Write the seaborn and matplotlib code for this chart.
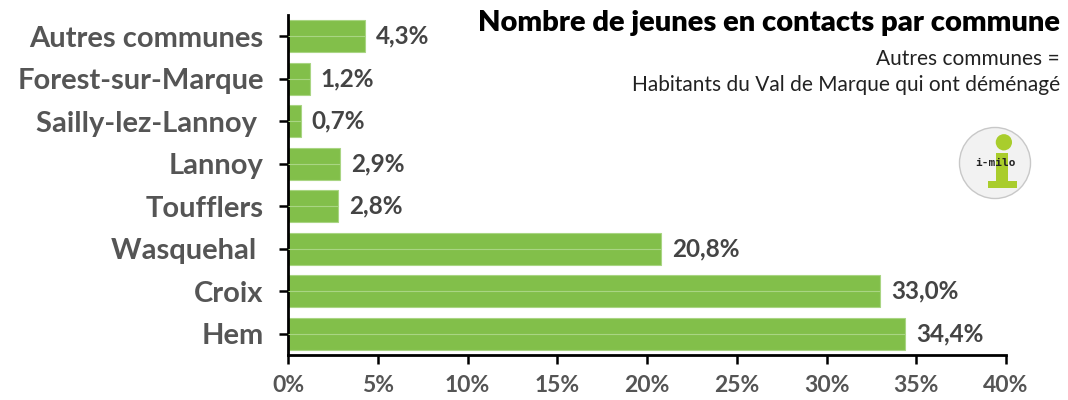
import pandas as pd
import matplotlib.pyplot as plt
import seaborn as sns
from matplotlib.patches import Circle, Rectangle

communes = ['Autres communes', 'Forest-sur-Marque', 'Sailly-lez-Lannoy ', 'Lannoy',
            'Toufflers', 'Wasquehal ', 'Croix', 'Hem']
parts = [4.3, 1.2, 0.7, 2.9, 2.8, 20.8, 33.0, 34.4]
x_ticks = [0, 5, 10, 15, 20, 25, 30, 35, 40]

df = pd.DataFrame({'Commune': communes, 'Part': parts})

sns.set_style('white')
plt.rcParams['font.family'] = ['Lato', 'DejaVu Sans']

fig = plt.figure(figsize=(10.68, 4), dpi=100)
ax = fig.add_axes([288 / 1068, 45 / 400, 718 / 1068, 340 / 400])

sns.barplot(data=df, x='Part', y='Commune', color='#82bf4a', width=0.75,
            edgecolor='#a9d583', linewidth=0.8, saturation=1, ax=ax)
# thin light line through the middle of each bar
ax.hlines(range(len(parts)), 0, parts, colors='#a9d583', linewidth=0.8, zorder=3)

ax.bar_label(ax.containers[0], labels=[f'{v:.1f}%'.replace('.', ',') for v in parts],
             padding=8, fontsize=17.5, fontweight='bold', color='#444444')

ax.set_xlim(0, 40)
ax.set_ylim(len(parts) - 0.5, -0.5)
ax.set_xticks(x_ticks, labels=[f'{t}%' for t in x_ticks])
ax.set_xlabel('')
ax.set_ylabel('')
ax.tick_params(axis='both', which='both', direction='out', length=6.5, width=1.8,
               color='black', left=True, bottom=True)
ax.tick_params(axis='y', labelsize=21, labelcolor='#555555', pad=11)
ax.tick_params(axis='x', labelsize=16.5, labelcolor='#555555', pad=8)
for lab in ax.get_xticklabels() + ax.get_yticklabels():
    lab.set_fontweight('bold')
for side in ['top', 'right']:
    ax.spines[side].set_visible(False)
for side in ['left', 'bottom']:
    ax.spines[side].set_color('black')
    ax.spines[side].set_linewidth(2)

fig.text(1060 / 1068, 1 - 23 / 400, 'Nombre de jeunes en contacts par commune',
         ha='right', va='center', fontsize=21, fontweight='heavy', color='black')
fig.text(1060 / 1068, 1 - 59 / 400, 'Autres communes =', ha='right', va='center',
         fontsize=15, color='#222222')
fig.text(1060 / 1068, 1 - 85 / 400, 'Habitants du Val de Marque qui ont déménagé',
         ha='right', va='center', fontsize=15, color='#222222')

# logo i-milo
logo = fig.add_axes([958 / 1068, 1 - 200 / 400, 74 / 1068, 74 / 400])
logo.set_aspect('equal')
logo.add_patch(Circle((0.5, 0.5), 0.48, facecolor='#f2f2f2', edgecolor='#c8c8c8', linewidth=1))
logo.add_patch(Circle((0.62, 0.78), 0.11, facecolor='#a9cd2c', edgecolor='none'))
logo.add_patch(Rectangle((0.52, 0.22), 0.16, 0.42, facecolor='#a9cd2c', edgecolor='none'))
logo.add_patch(Rectangle((0.4, 0.16), 0.4, 0.1, facecolor='#a9cd2c', edgecolor='none'))
logo.text(0.5, 0.5, 'i-milo', ha='center', va='center', fontsize=8,
          fontweight='bold', family='DejaVu Sans Mono', color='#222222')
logo.set_xlim(0, 1)
logo.set_ylim(0, 1)
logo.axis('off')

fig.savefig('out.png', dpi=100)
